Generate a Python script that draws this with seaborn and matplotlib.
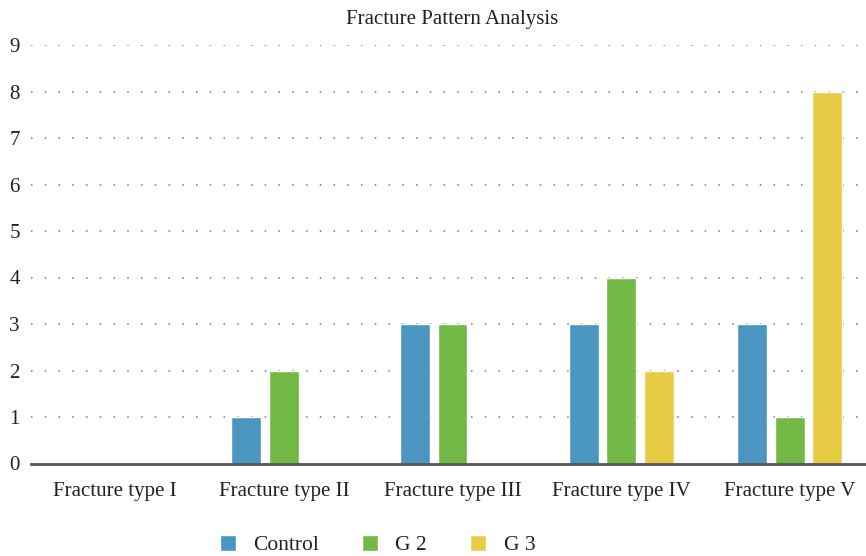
import pandas as pd
import seaborn as sns
import matplotlib.pyplot as plt

# Data
fracture_types = ['Fracture type I', 'Fracture type II', 'Fracture type III',
                  'Fracture type IV', 'Fracture type V']
control = [0, 1, 3, 3, 3]
g2 = [0, 2, 3, 4, 1]
g3 = [0, 0, 0, 2, 8]
groups = ['Control', 'G 2', 'G 3']
colors = ['#4b96c1', '#72ba45', '#e8cb45']

# Long format for seaborn
df = pd.DataFrame({
    'Fracture': fracture_types * 3,
    'Group': [g for g in groups for _ in fracture_types],
    'Count': control + g2 + g3,
})

sns.set_style('white')
plt.rcParams['font.family'] = ['Liberation Serif', 'DejaVu Serif']

fig = plt.figure(figsize=(8.66, 5.56), dpi=100)
# axes runs slightly past the right edge, like the reference
ax = fig.add_axes([31 / 866, 92.5 / 556, 843 / 866, 418.5 / 556])

sns.barplot(data=df, x='Fracture', y='Count', hue='Group', order=fracture_types,
            hue_order=groups, palette=colors, width=0.667, gap=0.2,
            saturation=1, ax=ax, legend=True)

ax.set_ylim(0, 9)
ax.set_xlim(-0.5, 4.5)
ax.set_yticks(range(0, 10))
ax.yaxis.grid(True, color='#777777', linestyle=(0, (1, 8)), linewidth=1.1)
ax.set_axisbelow(True)
for s in ['top', 'right', 'left']:
    ax.spines[s].set_visible(False)
ax.spines['bottom'].set_color('#555555')
ax.spines['bottom'].set_linewidth(2)
ax.tick_params(axis='both', length=0, labelsize=15, colors='#231f20')
ax.tick_params(axis='x', pad=13)
ax.tick_params(axis='y', pad=8)
ax.set_xlabel('')
ax.set_ylabel('')
ax.set_title('Fracture Pattern Analysis', fontsize=15, color='#231f20', pad=15)

ax.legend(loc='center', bbox_to_anchor=(0.411, -0.195), ncol=3, frameon=False,
          fontsize=15.5, handlelength=0.75, handleheight=0.75, columnspacing=2.0,
          handletextpad=0.8, labelcolor='#231f20')

plt.savefig('out.png', dpi=100)
